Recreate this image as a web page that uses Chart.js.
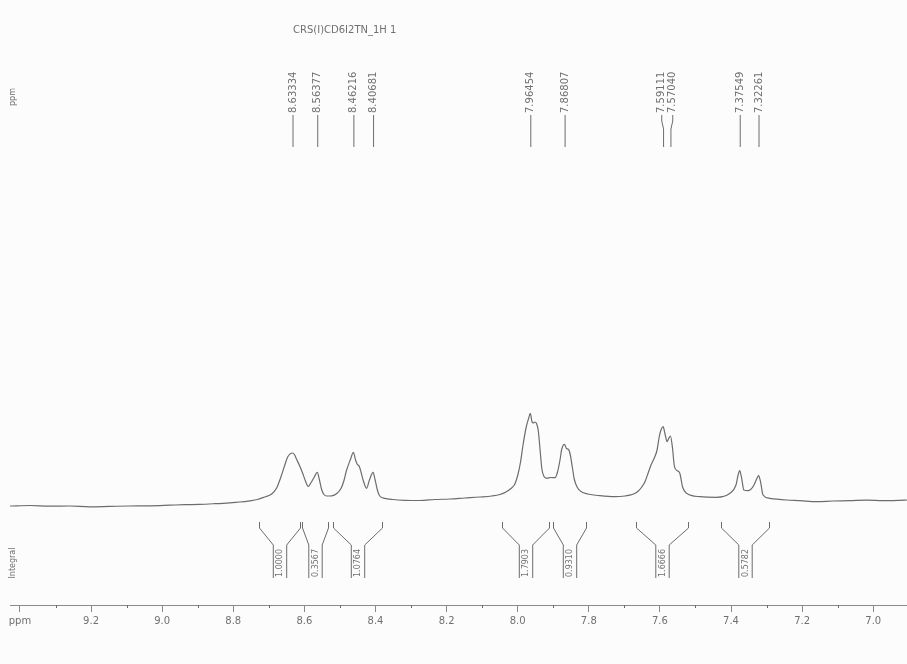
<!DOCTYPE html>
<html>
<head>
<meta charset="utf-8">
<script src="https://cdn.jsdelivr.net/npm/chart.js@4.4.1/dist/chart.umd.min.js"></script>
<style>
  html, body { margin: 0; padding: 0; background: #fcfcfc; }
  #wrap { width: 907px; height: 664px; position: relative; }
</style>
</head>
<body>
<div id="wrap"><canvas id="c" width="907" height="664"></canvas></div>
<script>
// 1H NMR trace: chemical shift (ppm) and relative intensity
const shiftPpm = [
  9.428, 9.372, 9.317, 9.260, 9.204, 9.148, 9.092, 9.035, 8.979, 8.937,
  8.895, 8.853, 8.810, 8.782, 8.754, 8.732, 8.712, 8.692, 8.678, 8.666,
  8.655, 8.647, 8.6333, 8.628, 8.621, 8.613, 8.604, 8.596, 8.589, 8.582,
  8.572, 8.5638, 8.557, 8.551, 8.545, 8.537, 8.523, 8.509, 8.497, 8.489,
  8.482, 8.470, 8.4622, 8.456, 8.451, 8.446, 8.440, 8.434, 8.425, 8.417,
  8.4068, 8.401, 8.394, 8.388, 8.374, 8.351, 8.317, 8.275, 8.233, 8.191,
  8.149, 8.106, 8.073, 8.050, 8.033, 8.019, 8.008, 7.999, 7.992, 7.985,
  7.976, 7.969, 7.9645, 7.960, 7.956, 7.952, 7.947, 7.942, 7.937, 7.932,
  7.926, 7.918, 7.907, 7.895, 7.888, 7.881, 7.876, 7.8681, 7.863, 7.857,
  7.852, 7.846, 7.841, 7.833, 7.822, 7.803, 7.769, 7.727, 7.698, 7.676,
  7.662, 7.651, 7.642, 7.634, 7.625, 7.617, 7.608, 7.602, 7.597, 7.5911,
  7.585, 7.580, 7.575, 7.5704, 7.565, 7.559, 7.551, 7.544, 7.536, 7.525,
  7.487, 7.441, 7.403, 7.386, 7.380, 7.3755, 7.370, 7.364, 7.352, 7.338,
  7.327, 7.3226, 7.317, 7.310, 7.291, 7.244, 7.206, 7.159, 7.113, 7.066,
  7.018, 6.972, 6.925, 6.905
];
const intensity = [
  -1, -0.5, -1.2, -1.0, -1.8, -1.4, -1.0, -0.8, -0.2, 0.3,
  0.6, 1.3, 2.2, 3.0, 4.2, 5.5, 8, 11, 17, 28,
  40, 48, 52, 50.5, 45, 39, 31, 23, 18.5, 22,
  28, 32.7, 24, 15, 10.5, 9, 9.2, 11.5, 16.5, 24,
  34, 46, 52.7, 45, 40.5, 39, 32, 24, 16.7, 25,
  32.7, 25, 14, 9, 6.7, 5.5, 4.7, 4.5, 5.5, 6,
  7, 8, 9, 10.5, 13, 16.5, 21, 31, 43, 60,
  78, 87, 91.7, 83.5, 82, 83, 81.5, 74, 55, 36,
  28.5, 26.7, 27.5, 27.3, 33, 45, 56, 60.7, 56.5, 55.5,
  50, 37, 26, 18, 13.5, 11, 9.3, 8.3, 9, 10.7,
  13.5, 18, 23.3, 31, 40, 46, 55, 68, 75, 78.3,
  70, 63.3, 66.7, 69, 58.3, 38.3, 34.3, 31.7, 17.7, 11.7,
  8.3, 7.7, 11.7, 20, 30, 34.3, 26.7, 15, 14.3, 18.3,
  26.7, 29.3, 23.3, 10, 6.7, 5, 4.3, 3.3, 4, 4.3,
  4.8, 4.3, 4.7, 5
];

// picked peaks (ppm)
const peakPpm = [8.63334, 8.56377, 8.46216, 8.40681, 7.96454, 7.86807, 7.59111, 7.57040, 7.37549, 7.32261];

// integral regions (ppm, from -> to) and their integrals
const integralFrom = [8.727, 8.606, 8.519, 8.044, 7.900, 7.668, 7.429];
const integralTo   = [8.612, 8.533, 8.383, 7.911, 7.808, 7.520, 7.293];
const integralValues = [1.0000, 0.3567, 1.0764, 1.7903, 0.9310, 1.6666, 0.5782];

// axis ticks every 0.1 ppm, labelled every 0.2 ppm
const tickPpm = [9.4, 9.3, 9.2, 9.1, 9.0, 8.9, 8.8, 8.7, 8.6, 8.5, 8.4, 8.3, 8.2,
                 8.1, 8.0, 7.9, 7.8, 7.7, 7.6, 7.5, 7.4, 7.3, 7.2, 7.1, 7.0];
const tickText = ['ppm', '', '9.2', '', '9.0', '', '8.8', '', '8.6', '', '8.4', '', '8.2',
                  '', '8.0', '', '7.8', '', '7.6', '', '7.4', '', '7.2', '', '7.0'];

const titleText = 'CRS(I)CD6I2TN_1H 1';

const INK = '#6c6c6c';
const TEXT = '#707070';

const paperPlugin = {
  id: 'paper',
  beforeDraw(chart) {
    const { ctx, width, height } = chart;
    ctx.save();
    ctx.fillStyle = '#fcfcfc';
    ctx.fillRect(0, 0, width, height);
    ctx.restore();
  }
};

function vtext(ctx, str, x, y, font, align) {
  ctx.save();
  ctx.translate(x, y);
  ctx.rotate(-Math.PI / 2);
  ctx.font = font;
  ctx.textAlign = align;
  ctx.textBaseline = 'middle';
  ctx.fillText(str, 0, 0);
  ctx.restore();
}

const annotationPlugin = {
  id: 'nmrAnnotations',
  afterDraw(chart) {
    const { ctx } = chart;
    const xs = chart.scales.x;
    const axisY = chart.chartArea.bottom;
    ctx.save();
    ctx.fillStyle = TEXT;
    ctx.strokeStyle = INK;
    ctx.lineWidth = 1;

    // title
    ctx.font = '10px "DejaVu Sans"';
    ctx.textAlign = 'left';
    ctx.textBaseline = 'middle';
    ctx.fillText(titleText, 293, 30);

    // side captions
    vtext(ctx, 'ppm', 13, 97, '8px "DejaVu Sans"', 'center');
    vtext(ctx, 'Integral', 13, 563, '8px "DejaVu Sans"', 'center');

    // minor ticks
    ctx.beginPath();
    tickPpm.forEach((v, i) => {
      if (tickText[i]) return;
      const x = Math.round(xs.getPixelForValue(v)) + 0.5;
      ctx.moveTo(x, axisY);
      ctx.lineTo(x, axisY + 3);
    });
    ctx.stroke();

    // peak labels, spread apart where they would collide
    const px = peakPpm.map(p => xs.getPixelForValue(p));
    const tx = px.slice();
    const gap = 11;
    for (let it = 0; it < 30; it++) {
      for (let i = 1; i < tx.length; i++) {
        const d = tx[i] - tx[i - 1];
        if (d < gap) {
          const s = (gap - d) / 2;
          tx[i - 1] -= s;
          tx[i] += s;
        }
      }
    }
    peakPpm.forEach((p, i) => {
      vtext(ctx, p.toFixed(5), tx[i] + 0.5, 113, '10px "DejaVu Sans"', 'left');
      ctx.beginPath();
      ctx.moveTo(tx[i] + 0.5, 115);
      ctx.lineTo(tx[i] + 0.5, 121);
      ctx.lineTo(px[i] + 0.5, 129);
      ctx.lineTo(px[i] + 0.5, 147);
      ctx.stroke();
    });

    // integral brackets
    integralFrom.forEach((a, i) => {
      const L = Math.round(xs.getPixelForValue(a)) + 0.5;
      const R = Math.round(xs.getPixelForValue(integralTo[i])) + 0.5;
      const c = (L + R) / 2;
      const h = 6.7;
      ctx.beginPath();
      ctx.moveTo(L, 522);
      ctx.lineTo(L, 528);
      ctx.lineTo(c - h, 545);
      ctx.lineTo(c - h, 578);
      ctx.moveTo(c + h, 578);
      ctx.lineTo(c + h, 545);
      ctx.lineTo(R, 528);
      ctx.lineTo(R, 522);
      ctx.stroke();
      vtext(ctx, integralValues[i].toFixed(4), c, 577, '8px "DejaVu Sans"', 'left');
    });

    ctx.restore();
  }
};

new Chart(document.getElementById('c'), {
  type: 'line',
  data: {
    datasets: [{
      data: shiftPpm.map((p, i) => ({ x: p, y: intensity[i] })),
      borderColor: INK,
      borderWidth: 1.2,
      pointRadius: 0,
      fill: false,
      cubicInterpolationMode: 'monotone'
    }]
  },
  options: {
    responsive: false,
    animation: false,
    devicePixelRatio: 1,
    layout: { padding: { left: 10, right: 0, top: 20, bottom: 34 } },
    plugins: { legend: { display: false }, tooltip: { enabled: false } },
    scales: {
      x: {
        type: 'linear',
        reverse: true,
        min: 6.905,
        max: 9.428,
        afterBuildTicks: axis => { axis.ticks = tickPpm.map(v => ({ value: v })); },
        ticks: {
          autoSkip: false,
          maxRotation: 0,
          padding: 3,
          color: TEXT,
          font: { family: 'DejaVu Sans', size: 10 },
          callback: (v, i) => tickText[i]
        },
        grid: {
          drawOnChartArea: false,
          drawTicks: true,
          tickLength: 7,
          tickWidth: 1,
          tickColor: c => (tickText[c.index] ? '#8a8a8a' : 'rgba(0,0,0,0)')
        },
        border: { display: true, color: '#8a8a8a', width: 1 }
      },
      y: {
        display: false,
        min: -100,
        max: 485
      }
    }
  },
  plugins: [paperPlugin, annotationPlugin]
});
</script>
</body>
</html>
